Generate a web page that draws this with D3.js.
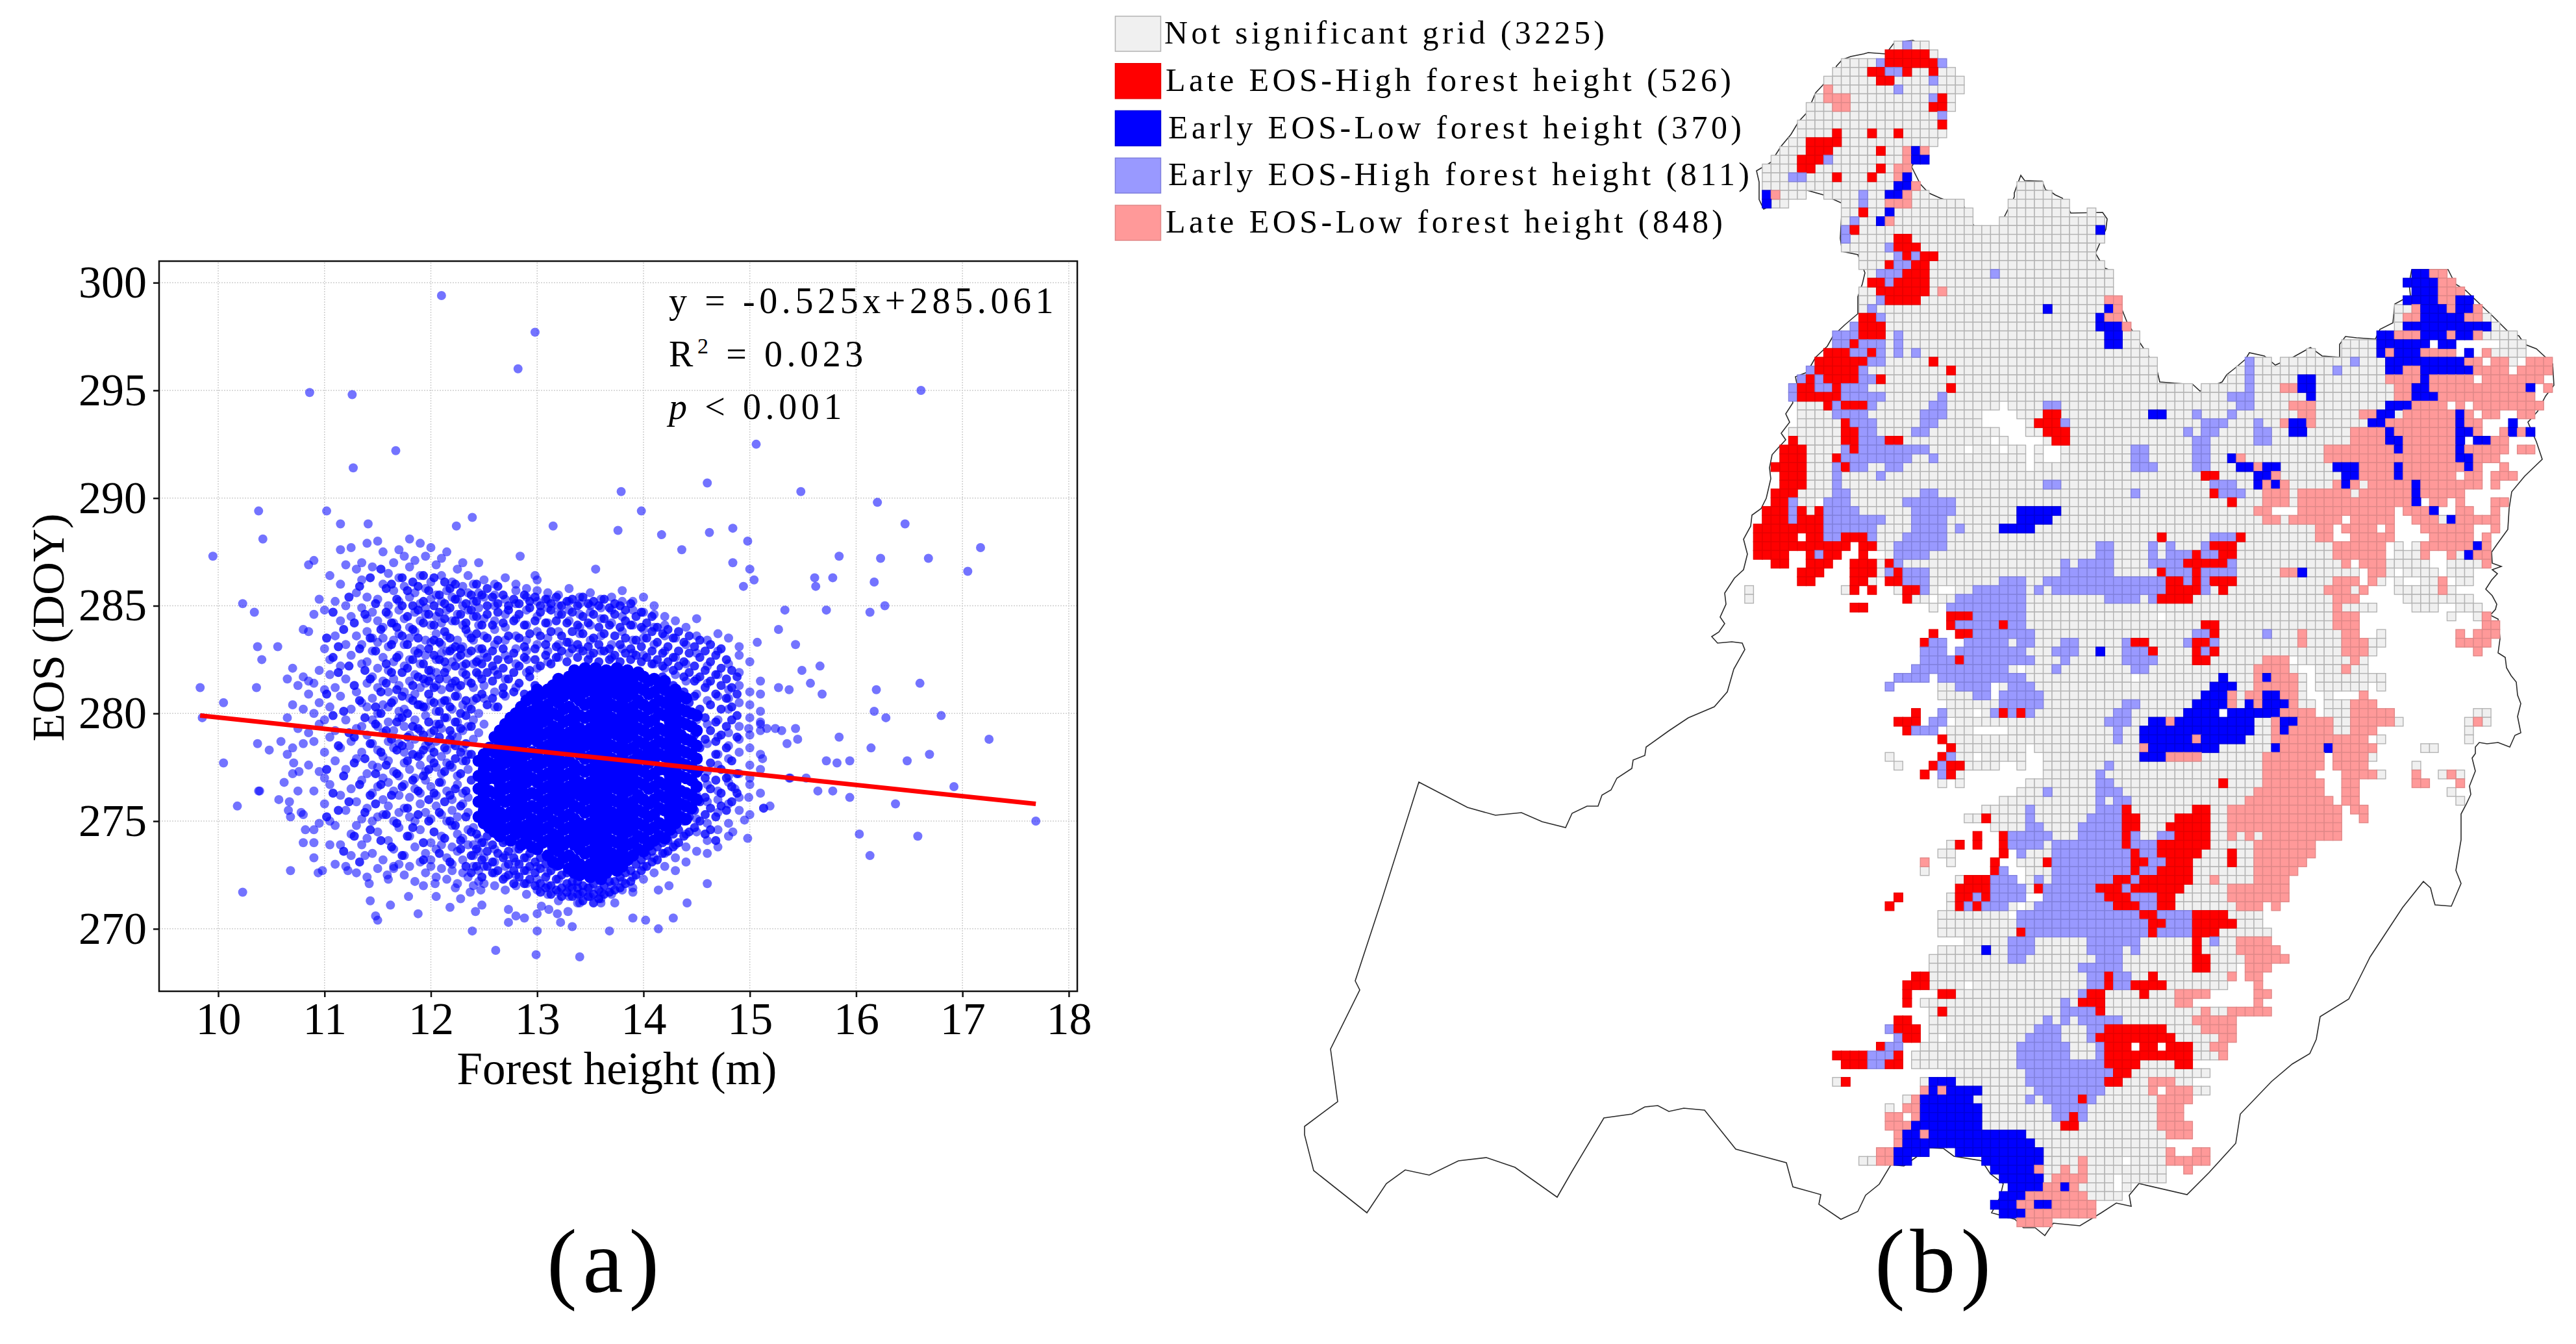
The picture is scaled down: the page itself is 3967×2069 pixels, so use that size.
<!DOCTYPE html>
<html>
<head>
<meta charset="utf-8">
<script src="https://cdn.jsdelivr.net/npm/d3@7"></script>
<style>
  body { margin: 0; background: #fff; }
  text { font-family: "Liberation Serif", serif; fill: #000; }
</style>
</head>
<body>
<div id="chartbox"></div>
<script>
// ---- panel (a) values ----
const xTicks = [10, 11, 12, 13, 14, 15, 16, 17, 18]
const yTicks = [270, 275, 280, 285, 290, 295, 300]
const fitHeight = [9.83, 17.69]
const fitEos = [279.9, 275.8]
const statLines = ['y = -0.525x+285.061', '0.023', '0.001']

// scattered points outside the cloud
const outliers = [[12.10,299.4],[12.98,297.7],[12.82,296.0],[10.86,294.9],[11.26,294.8],[16.61,295.0],[15.06,292.5],[11.67,292.2],[11.27,291.4],[14.60,290.7],[13.79,290.3],[15.48,290.3],[10.38,289.4],[11.02,289.4],[13.98,289.4],[16.20,289.8],[12.39,289.1],[11.15,288.8],[11.41,288.8],[12.24,288.7],[13.15,288.7],[13.76,288.5],[14.17,288.3],[14.62,288.4],[14.84,288.6],[14.98,288.0],[16.46,288.8],[17.17,287.7],[9.95,287.3],[10.42,288.1],[15.84,287.3],[16.23,287.2],[16.68,287.2],[17.05,286.6],[14.36,287.6],[12.84,287.3],[13.55,286.7],[12.98,286.4],[14.84,287.0],[15.0,286.7],[15.04,286.2],[15.61,286.3],[15.78,286.3],[15.62,285.9],[16.17,286.1],[14.94,285.9],[16.27,285.0],[16.13,284.7],[15.72,284.8],[15.33,284.8],[15.27,283.9],[15.07,283.3],[15.43,283.2],[10.23,285.1],[10.34,284.7],[10.85,283.8],[10.56,283.1],[10.37,283.1],[10.41,282.5],[15.49,282.0],[15.66,282.2],[15.57,281.4],[16.60,281.4],[16.19,281.1],[15.68,280.9],[15.37,281.1],[15.27,281.2],[9.83,281.2],[10.36,281.2],[10.05,280.5],[16.17,280.1],[16.28,279.8],[16.80,279.9],[9.85,279.8],[15.84,278.9],[17.25,278.8],[16.14,278.4],[16.69,278.1],[15.72,277.8],[15.82,277.7],[15.94,277.8],[16.48,277.8],[10.05,277.7],[15.37,277.0],[15.53,277.0],[16.92,276.6],[15.64,276.4],[15.78,276.4],[15.94,276.1],[16.37,275.8],[10.38,276.4],[10.18,275.7],[17.69,275.0],[15.19,275.7],[15.13,275.6],[16.03,274.4],[16.58,274.3],[16.13,273.4],[10.23,271.7],[12.61,269.0],[12.99,268.8],[13.40,268.7],[12.39,269.9],[13.0,269.9],[13.68,269.9],[14.14,270.0],[13.33,270.1],[12.73,270.3],[13.22,270.3],[12.8,270.6],[12.88,270.5],[13.9,270.5],[14.02,270.4],[14.28,270.5],[11.5,270.4],[11.48,270.6],[11.88,270.7],[12.42,270.8],[13.0,270.7],[12.73,270.9],[13.11,270.9],[13.29,270.8],[13.19,270.7],[13.04,271.05],[12.48,271.1],[12.18,271.0],[11.62,271.1],[11.43,271.3],[11.79,271.5],[12.05,271.5],[12.28,271.4],[13.38,271.2],[13.6,271.2],[13.73,271.2],[14.41,271.2],[14.6,272.1],[14.24,272.0],[14.14,271.8],[13.9,271.7],[11.42,272.1],[11.93,272.0],[12.04,272.1],[12.23,271.9],[12.37,271.7],[12.47,271.8],[10.68,272.7],[10.94,272.6],[10.98,272.7],[11.22,272.7],[11.65,272.8],[11.59,272.5],[10.9,273.3],[11.38,273.4],[10.8,274.0],[10.9,274.0],[11.05,273.9],[10.82,274.6],[10.9,274.6],[10.68,275.2],[10.66,275.5],[10.57,276.0],[10.67,275.9],[10.78,275.4],[10.39,276.4],[10.62,276.8],[10.76,277.3],[10.71,277.7],[10.37,278.6],[10.48,278.3],[10.59,278.7],[10.7,278.4],[14.98,274.2],[14.84,274.5],[14.95,275.05],[15.13,275.6],[14.99,276.1],[14.86,276.5],[15.12,277.9],[15.38,277.0],[15.35,278.6],[15.43,279.3],[15.45,278.8],[15.24,279.3],[15.3,279.2],[15.16,279.3],[15.1,279.6],[14.99,279.3]]

// the loose part of the cloud, one EOS list per forest height
const looseHeights = [10.65,10.7,10.75,10.8,10.85,10.9,10.95,11.0,11.05,11.1,11.15,11.2,11.25,11.3,11.35,11.4,11.45,11.5,11.55,11.6,11.65,11.7,11.75,11.8,11.85,11.9,11.95,12.0,12.05,12.1,12.15,12.2,12.25,12.3,12.35,12.4,12.45,12.5,12.6,12.7,12.8,12.9,13.0,13.1,13.2,13.3,13.4,13.5,13.6,13.7,13.8,13.9,14.0,14.1,14.2,14.3,14.4,14.5,14.6,14.7,14.8,14.9,15.0,15.1]
const looseEos = [
  [279.8,281.6,278.1],
  [280.4,282.1,277.2],
  [281.3,279.3,276.4],
  [281.7,280.2,278.6,283.9,275.3],
  [280.9,279.1,281.5,286.9,277.6],
  [281.4,280.0,278.7,284.6,276.4,287.1],
  [280.5,279.5,282.0,277.3,285.3,274.9],
  [281.1,279.7,278.2,283.0,275.8,284.8,277.0],
  [281.8,280.3,278.9,276.7,282.5,286.4,275.0],
  [279.2,281.2,283.6,277.8,274.8,285.2,273.0],
  [280.8,278.4,282.2,284.3,276.2,273.9,287.6,286.0],
  [281.6,279.7,277.4,283.2,275.5,285.0,272.9,286.9],
  [280.2,278.7,282.7,276.5,284.5,274.4,273.4,287.7],
  [281.0,279.3,277.9,283.6,275.9,285.6,274.8,272.6,286.7],
  [280.5,278.2,282.3,276.9,284.9,273.9,283.2,286.2,275.1,287.0,279.4],
  [281.4,279.0,277.2,283.8,275.6,285.4,274.2,280.3,282.4,284.4,272.4,287.9],
  [280.7,278.6,282.9,276.3,284.7,273.5,281.7,279.7,275.0,286.8,277.6,283.5],
  [281.2,279.4,277.5,283.3,275.2,285.3,274.5,280.0,282.1,284.3,272.8,288.0,276.6,278.3],
  [280.4,278.0,282.6,276.0,284.0,273.2,281.5,279.1,286.0,275.3,277.0,283.5,287.5],
  [281.0,279.6,277.8,283.1,275.7,285.0,274.1,280.3,282.0,284.6,272.3,286.5,276.8,278.7],
  [280.6,278.4,282.4,276.4,284.2,273.7,281.6,279.2,285.7,275.0,277.3,283.4,287.0,272.9],
  [281.3,279.8,277.1,283.7,275.4,285.2,274.7,280.1,282.7,284.8,273.0,286.3,276.2,278.6,287.6],
  [280.2,278.2,282.2,276.7,284.4,273.4,281.0,279.4,285.9,275.6,277.7,283.2,287.3,272.5],
  [281.5,279.0,277.4,283.5,275.2,285.4,274.3,280.7,282.5,284.0,272.9,286.8,276.1,278.5,288.1],
  [280.9,278.8,282.9,276.5,284.7,273.8,281.8,279.7,285.6,275.0,277.0,283.8,287.1,272.2],
  [281.2,279.2,277.6,283.0,275.8,285.1,274.6,280.4,282.3,284.3,273.1,286.4,276.3,278.1,287.9],
  [280.3,278.5,282.7,276.9,284.6,273.5,281.4,279.9,285.8,275.4,277.3,283.4,287.3,272.6,284.9],
  [281.7,279.1,277.9,283.3,275.1,285.3,274.0,280.6,282.0,284.1,272.9,286.1,276.6,278.4,287.7,273.2],
  [280.1,278.7,282.5,276.2,284.5,273.7,281.3,279.5,285.5,275.7,277.5,283.7,286.9,272.4,281.9],
  [281.1,279.3,277.2,283.2,275.3,285.2,274.3,280.5,282.8,284.2,272.8,286.4,276.8,278.0,287.2,273.9],
  [280.6,278.3,282.1,276.4,284.8,273.3,281.6,279.8,285.7,275.0,277.7,283.6,287.5,272.3,282.9],
  [281.4,279.0,277.5,283.0,275.5,285.4,274.8,280.2,282.4,284.3,273.0,286.1,276.0,278.6,272.7,273.8],
  [280.8,278.9,282.6,276.7,284.6,273.6,281.2,279.6,285.3,275.2,277.1,283.4,286.7,272.1,274.4],
  [281.9,279.2,277.8,283.1,275.8,285.0,274.2,280.4,282.2,284.1,272.6,285.9,276.3,278.4,287.0,273.2],
  [280.3,278.1,282.8,276.1,284.8,273.9,281.5,279.4,285.6,275.4,277.4,283.7,286.4,272.4,274.6],
  [281.2,279.7,283.4,285.2,274.7,280.6,282.3,284.5,272.9,286.0,273.4,278.8,272.0,273.9],
  [281.8,279.1,283.0,284.9,274.2,280.0,282.5,284.1,272.7,285.6,273.6,287.0,272.2],
  [280.7,279.5,283.6,285.4,274.0,281.3,282.8,284.4,272.9,286.2,273.3,272.1],
  [280.3,282.0,283.2,285.0,273.7,281.0,284.3,286.0,272.6,273.1,283.9,285.5,272.0],
  [281.6,282.7,284.0,285.3,273.4,280.8,283.4,286.3,272.4,272.9,284.6,274.1,271.8],
  [281.2,282.3,283.6,285.1,273.1,284.4,285.7,272.5,273.7,283.0,286.0,272.0],
  [281.9,282.9,284.1,285.4,272.7,283.4,284.8,273.3,272.1,282.5,285.8,271.6],
  [282.1,283.2,284.5,285.2,272.3,283.8,285.7,271.8,272.9,286.2],
  [282.4,283.5,284.2,285.3,272.0,282.9,284.9,271.6,272.6,285.6],
  [282.6,283.8,284.6,285.0,271.7,283.2,285.5,272.3,271.3],
  [282.8,283.3,284.3,285.2,271.9,284.8,271.5,285.8],
  [283.0,283.7,284.6,285.4,271.6,284.0,285.1,271.2],
  [282.7,283.4,284.1,285.0,271.5,284.7,271.9,285.6],
  [282.9,283.6,284.4,285.3,271.7,284.9,271.4],
  [282.6,283.2,284.2,284.8,272.0,285.4,271.6],
  [283.0,283.8,284.5,285.2,272.2,271.8,285.7],
  [282.8,283.4,284.1,284.8,272.4,271.9,285.2],
  [282.7,283.5,284.7,285.4,272.9,272.3,283.9],
  [282.3,283.2,284.0,284.6,273.3,272.6,285.0],
  [282.1,282.9,283.6,284.5,273.5,272.9,284.1],
  [281.8,282.6,283.5,284.3,273.9,273.3,272.7,280.9],
  [281.5,282.3,283.2,284.0,274.4,273.8,273.1,275.0],
  [280.9,281.6,282.8,283.6,275.1,274.5,273.6,276.2,284.4,279.7],
  [280.6,281.4,282.2,283.4,275.9,274.9,274.1,277.3,278.6,273.5,279.5,276.7],
  [279.7,280.8,281.8,282.9,276.4,275.4,274.6,277.6,278.9,283.7,273.8,278.1,276.0],
  [279.1,280.2,281.1,282.3,276.8,275.8,274.9,277.1,278.5,283.5,274.3,280.7,277.9],
  [279.4,280.5,281.3,282.7,277.2,276.1,275.5,278.2,278.8,283.1,281.9],
  [279.0,279.8,281.0,282.4,277.6,276.7,275.3,278.4,277.0,280.4],
  [279.5,280.1,281.5,278.1,277.4,279.2,276.3,280.9]
]

// darker clumps of the cloud, where a few points already overlap
const clumpHeights = [11.02,11.08,11.13,11.18,11.23,11.28,11.33,11.38,11.43,11.48,11.53,11.58,11.63,11.68,11.73,11.78,11.83,11.88,11.93,11.98,12.03,12.08,12.13,12.18,12.23,12.28,12.33,12.38,12.43,12.48,12.53,12.58,12.63,12.68,12.73,12.78,12.83,12.88,12.93,12.98,13.03,13.08,13.13,13.18,13.23,13.28,13.33,13.38,13.43,13.48,13.53,13.58,13.63,13.68,13.73,13.78,13.83,13.88,13.93,13.98,14.03,14.08,14.13,14.18,14.23,14.28,14.33,14.38,14.43,14.48,14.53,14.58,14.63,14.68,14.73,14.78,14.83,14.88]
const clumpEos = [
  [283.5,280.9,277.4,275.2],
  [282.6,279.9,276.3,284.7],
  [281.9,278.5,275.5,283.1],
  [280.1,283.9,277.1,273.6],
  [282.2,279.1,285.4,275.9],
  [281.3,284.2,277.7,274.3,278.9],
  [283.0,280.6,276.7,285.9,273.1],
  [279.8,282.0,284.6,275.4,277.9],
  [281.6,278.6,283.5,286.3,274.6,276.2],
  [280.3,282.9,285.1,277.2,279.5,275.8],
  [283.9,281.0,278.2,286.7,274.1,276.7,280.0],
  [279.2,282.3,284.7,277.6,275.3,281.4,285.8],
  [283.2,280.5,278.8,286.0,276.2,273.8,281.9,284.2],
  [279.6,282.6,285.3,277.2,274.9,281.1,284.0,278.3],
  [283.6,280.8,278.5,286.3,276.6,273.4,281.9,285.0,279.8],
  [282.1,280.0,284.5,277.8,275.6,283.2,278.9,285.7,274.3],
  [283.9,281.3,279.4,286.1,276.9,274.7,282.5,285.0,278.1,280.6],
  [282.8,280.4,284.8,278.0,275.3,283.5,279.3,285.9,276.4,281.7],
  [284.2,281.6,279.0,286.4,277.1,274.0,282.3,285.2,278.3,280.3,273.2],
  [283.0,280.9,284.6,278.7,276.0,282.0,279.6,285.7,275.0,281.5,277.4],
  [284.1,281.2,279.2,285.0,277.7,274.5,282.7,283.4,278.2,280.5,276.3,286.3],
  [282.5,280.1,284.7,278.9,275.4,283.3,279.5,285.5,276.8,281.6,273.5],
  [283.8,281.9,279.8,286.1,277.3,274.2,282.4,285.1,278.4,280.6,275.9,284.4],
  [282.9,280.3,284.9,278.8,276.2,283.5,279.2,285.8,275.0,281.2,277.6,273.1],
  [284.3,281.5,279.6,285.3,277.9,274.8,282.2,283.1,278.5,280.8,276.5,286.0],
  [283.0,280.0,284.6,278.2,275.7,282.7,279.3,285.6,274.1,281.3,277.2,273.7],
  [283.9,281.8,279.9,285.1,277.8,275.2,282.3,284.2,278.6,280.6,276.4,272.9],
  [282.9,280.2,284.8,278.1,274.5,283.5,279.4,285.5,276.9,281.4,273.4,272.6],
  [283.7,281.9,284.5,285.2,282.4,280.7,273.7,272.9,274.4,286.0],
  [283.0,282.3,284.1,285.5,281.6,280.9,273.2,272.4,274.0],
  [283.5,281.9,284.6,285.0,282.6,280.4,273.6,272.9,274.3,285.8],
  [282.9,282.2,284.1,285.4,281.5,280.7,273.1,272.6,273.9],
  [283.4,281.8,284.7,285.1,282.5,280.3,272.7,273.5,285.9],
  [283.0,282.1,284.2,285.5,281.2,280.9,273.3,272.3,274.0],
  [283.6,282.5,284.8,285.0,281.6,273.0,272.5,273.6],
  [282.8,281.9,284.3,285.3,281.0,272.7,273.3,272.1],
  [283.5,282.2,284.6,285.1,281.4,273.0,272.4,273.7],
  [283.1,282.6,284.1,285.5,280.9,272.7,272.1,273.3],
  [283.7,282.0,284.9,285.2,281.7,272.9,272.3,273.5],
  [283.0,282.5,284.3,285.4,281.3,272.6,272.0,273.1],
  [283.6,282.2,284.7,285.0,272.8,272.1,271.7,273.3],
  [283.2,282.7,284.2,285.3,272.4,271.9,273.0],
  [283.8,282.3,284.8,285.1,272.7,272.0,271.6],
  [283.1,282.6,284.3,285.4,272.3,271.8,272.9],
  [283.6,282.9,284.6,285.0,272.5,271.9,271.5],
  [283.3,282.4,284.2,285.2,272.1,271.7,272.6],
  [283.8,283.0,284.7,285.3,272.2,271.5,271.9],
  [283.2,282.6,284.1,285.0,271.9,271.6,272.2],
  [283.7,282.9,284.5,285.4,271.7,271.3,272.0],
  [283.1,282.5,284.2,285.1,271.9,271.5],
  [283.5,282.8,284.6,285.2,271.6,271.2,272.1],
  [283.2,282.4,284.0,285.0,271.8,271.4],
  [283.7,282.9,284.4,285.3,272.0,271.6],
  [283.0,282.5,284.1,284.9,271.7,272.2],
  [283.6,282.7,284.6,285.1,272.2,271.8],
  [283.2,282.4,284.0,285.0,272.4,271.9],
  [283.5,282.8,284.3,284.8,272.6,272.1],
  [283.0,282.5,284.1,285.1,272.7,272.2],
  [283.4,282.7,284.5,273.0,272.5],
  [283.1,282.4,284.0,284.7,273.2,272.7],
  [283.5,282.6,284.2,273.4,272.9],
  [282.9,282.3,283.8,284.5,273.6,273.1],
  [283.3,282.5,284.0,273.8,273.2],
  [282.8,282.2,283.7,274.0,273.5,281.7],
  [283.1,282.4,283.9,274.1,273.6],
  [282.6,282.0,283.5,274.4,273.8,281.3],
  [282.9,282.2,283.8,274.6,274.0,280.9],
  [282.4,281.7,283.3,275.0,274.3,281.0],
  [282.8,281.9,283.6,275.2,274.5,280.5,276.0],
  [282.2,281.5,283.1,275.5,274.7,280.8,276.8,279.0],
  [282.6,281.7,283.4,275.9,275.0,280.2,277.4,278.4],
  [282.0,281.2,282.9,276.1,275.3,279.8,277.0,278.8,274.4],
  [282.4,281.5,283.2,276.5,275.6,280.4,277.7,279.2,274.6],
  [281.8,280.9,282.7,276.9,275.2,279.6,278.1,278.7,274.1],
  [282.1,281.3,283.0,276.3,275.7,280.2,277.4,279.0],
  [281.6,280.7,282.5,277.0,275.5,279.4,278.4],
  [281.2,280.3,282.0,276.6,275.9,279.7,277.8],
  [280.9,279.9,281.7,277.2,276.3,278.9]
]

// the solid core of the cloud, where points pile up on each other
const coreHeights = [12.45,12.5,12.55,12.6,12.65,12.7,12.75,12.8,12.85,12.9,12.95,13.0,13.05,13.1,13.15,13.2,13.25,13.3,13.35,13.4,13.45,13.5,13.55,13.6,13.65,13.7,13.75,13.8,13.85,13.9,13.95,14.0,14.05,14.1,14.15,14.2,14.25,14.3,14.35,14.4,14.45,14.5]
const coreEos = [
  [275.2,275.9,276.5,277.1,277.8],
  [274.9,275.5,276.2,276.8,277.4,278.1],
  [274.7,275.3,275.8,276.4,277.0,277.7,278.4],
  [274.5,275.1,275.7,276.3,277.0,277.5,278.2,278.9],
  [274.3,274.9,275.4,276.1,276.7,277.3,277.9,278.6,279.2],
  [274.6,275.2,275.9,276.5,277.1,277.7,278.3,278.9,279.5],
  [274.1,274.7,275.4,276.0,276.6,277.2,277.9,278.5,279.1,279.8],
  [274.4,275.0,275.7,276.3,276.9,277.5,278.2,278.8,279.4,280.0],
  [273.9,274.6,275.3,275.9,276.5,277.1,277.8,278.4,279.0,279.7,280.3],
  [274.2,274.8,275.5,276.2,276.8,277.4,278.1,278.7,279.3,279.9,280.6],
  [273.8,274.5,275.1,275.7,276.3,277.0,277.6,278.2,278.9,279.5,280.1,280.8],
  [273.7,274.3,274.9,275.6,276.2,276.8,277.5,278.0,278.7,279.3,279.9,280.5,281.1],
  [274.0,274.6,275.2,275.9,276.5,277.1,277.7,278.4,279.0,279.6,280.2,280.9],
  [273.4,274.1,274.7,275.4,276.0,276.6,277.2,277.9,278.5,279.1,279.8,280.4,281.1],
  [273.1,273.8,274.4,275.0,275.7,276.3,276.9,277.6,278.2,278.8,279.4,280.0,280.7,281.3],
  [273.0,273.6,274.2,274.9,275.5,276.1,276.7,277.3,278.0,278.6,279.2,279.9,280.5,281.1,281.6],
  [273.3,273.9,274.6,275.2,275.8,276.4,277.1,277.7,278.3,278.9,279.6,280.2,280.8,281.4],
  [272.8,273.4,274.1,274.7,275.3,276.0,276.6,277.2,277.8,278.5,279.1,279.7,280.3,281.0,281.7],
  [272.6,273.2,273.9,274.5,275.1,275.7,276.4,277.0,277.6,278.3,278.9,279.5,280.1,280.8,281.4,282.0],
  [272.5,273.0,273.7,274.3,274.9,275.6,276.2,276.8,277.4,278.1,278.7,279.3,279.9,280.6,281.2,281.8],
  [272.8,273.5,274.1,274.7,275.4,276.0,276.6,277.3,277.9,278.5,279.1,279.8,280.4,281.0,281.6,282.1],
  [272.4,273.0,273.6,274.3,274.9,275.5,276.2,276.8,277.4,278.0,278.7,279.3,279.9,280.5,281.2,281.8],
  [272.7,273.3,273.9,274.6,275.2,275.8,276.4,277.1,277.7,278.3,279.0,279.6,280.2,280.8,281.5,282.1],
  [272.3,272.9,273.6,274.2,274.8,275.4,276.1,276.7,277.3,277.9,278.6,279.2,279.8,280.5,281.1,281.7],
  [272.6,273.2,273.8,274.5,275.1,275.7,276.3,277.0,277.6,278.2,278.9,279.5,280.1,280.7,281.4,282.0],
  [272.9,273.5,274.1,274.8,275.4,276.0,276.7,277.3,277.9,278.5,279.2,279.8,280.4,281.1,281.7],
  [272.7,273.3,274.0,274.6,275.2,275.9,276.5,277.1,277.7,278.4,279.0,279.6,280.3,280.9,281.5,282.1],
  [272.9,273.6,274.2,274.8,275.5,276.1,276.7,277.3,278.0,278.6,279.2,279.9,280.5,281.1,281.8],
  [273.2,273.9,274.5,275.1,275.7,276.4,277.0,277.6,278.3,278.9,279.5,280.1,280.8,281.4,282.0],
  [273.4,274.0,274.7,275.3,275.9,276.6,277.2,277.8,278.4,279.1,279.7,280.3,281.0,281.6],
  [273.7,274.3,274.9,275.5,276.2,276.8,277.4,278.1,278.7,279.3,279.9,280.6,281.2,281.9],
  [273.6,274.2,274.8,275.4,276.0,276.7,277.3,277.9,278.6,279.2,279.8,280.4,281.1,281.7],
  [273.9,274.6,275.2,275.8,276.5,277.1,277.7,278.3,279.0,279.6,280.2,280.9,281.5],
  [274.1,274.7,275.3,276.0,276.6,277.2,277.9,278.5,279.1,279.7,280.4,281.0,281.6],
  [274.3,274.9,275.6,276.2,276.8,277.4,278.1,278.7,279.3,280.0,280.6,281.2],
  [274.2,274.8,275.5,276.1,276.7,277.4,278.0,278.6,279.2,279.9,280.5,281.1,281.5],
  [274.6,275.2,275.9,276.5,277.1,277.8,278.4,279.0,279.6,280.3,280.9],
  [274.9,275.5,276.2,276.8,277.4,278.0,278.7,279.3,279.9,280.6,281.1],
  [275.2,275.8,276.4,277.1,277.7,278.3,279.0,279.6,280.2,280.8],
  [275.1,275.7,276.3,277.0,277.6,278.2,278.8,279.5,280.1,280.7],
  [275.6,276.2,276.9,277.5,278.1,278.7,279.4,280.0],
  [276.0,276.6,277.3,277.9,278.5,279.2,279.9]
]

// ---- panel (b) values: cells of the grid as "row:firstCol-lastCol,..." ----
const legendNames = ['Not significant grid (3225)', 'Late EOS-High forest height (526)', 'Early EOS-Low forest height (370)', 'Early EOS-High forest height (811)', 'Late EOS-Low forest height (848)']

const notSignificantRuns = ['0:16-19','1:15-20','2:10-21','3:9-22','4:8-23','5:8-23','6:7-22','7:6-22','8:6-21','9:5-21','10:5-21','11:4-20','12:3-19','13:2-19','14:1-17','15:1-17','16:1-18,30-32','17:1-5,8-19,30-33','18:1-3,10-23,29-35','19:10-24,29-35,38','20:10-24,28-39','21:10-39','22:10-39','23:10-38','24:12-38','25:12-39','26:13-40,75-78','27:13-40,74-79','28:12-40,75-80','29:12-41,74-81','30:12-41,73-82','31:12-41,73-83','32:11-42,73-84','33:9-43,71-86','34:9-43,67-76,85-87','35:8-44,63,67-79,84-87','36:7-45,56-58,60-82,84-86','37:6-45,55-85','38:5-45,54-81,83-89','39:4-49,51-88','40:4-88','41:5-27,29-78,80,82-89','42:5-25,30-81,83-84,87-88','43:5-25,31-82','44:4-27,31-82,85-88','45:4-26,28,33-80,82-85','46:3-23,25-27,29-30,32,35-85,87-88','47:3-30,32,35-84','48:2-30,32-82,85','49:3-79,81-82,84-86','50:3-82,84','51:2-80','52:2-6,8-75,77-78,80,84-85','53:1-58,62-72,74-77,80-81,84','54:1-66,68-72,75-84','55:0-65,67-70,72,76-81,84','56:0-4,6-65,68-72,77-81,83','57:0-10,12-71,73,75-83','58:0-3,6-9,12,15-71,73-76,79-83','59:2-3,6-8,11-67,69-76,79-83','60:5-7,11-68,70-72,74-77,79-81','61:5-6,11-13,15-68,70-71,73,76-78,80-81','62:-1,10-11,13,16-20,23-69,73-79','63:-1,17-19,21-68,74-81','64:11-12,20,22-70,75-77,80-82','65:22-45,47-68,79,82','66:22-68','67:20,23-68,71','68:19-21,24-71','69:19-21,23-70','70:19-60,62-69','71:18-29,31-61,64-69','72:16-19,21-42,44-62,64-71','73:15,21-26,28-62,64-69,71','74:21-26,28-62,65,69','75:22-63,65-70','76:18,21-24,26-52,54-63,65-72,82-83','77:16-18,20-21,23-73,81,83','78:17-20,22-24,29-70,81','79:21-69,71,81','80:22-30,32-70,76-77','81:15,21-24,26-30,33-64,66-70','82:16,20-27,30,33-64,66-69,75','83:19,21-23,33-63,67-71,78,80','84:21,23,31-64,67-68','85:30-64,67-68,79','86:28-65,67-68,80','87:26-66,68-69','88:24-66,69','89:27-66','90:25,28-66','91:22-23,25,28-63','92:21-22,28,30-63','93:19,22,27,30-62','94:19,27-28,31-61','95:23-29,31-60','96:23-60','97:16,22-30,33-60','98:15,22-29,31-57,59','99:21-28,30-57','100:21-57','101:21-58','102:24-58','103:21-58','104:20-58','105:20-54,56-58','106:18-54,56-57','107:17-23,25-53,57','108:17,21-51,57-58','109:17,19-49,57','110:20-58','111:16-17,20-54','112:15-18,20-54','113:16-18,20,22-54','114:14-16,19-42,44-45,47-53','115:9-16,18-53','116:10-16,18-49','117:22-51','118:9-10,19-49','119:19-45,47-51','120:17-49','121:15,17-48','122:15-16,18-48','123:15-49','124:16-49','125:16-46','126:14-19,23-47,50-51','127:12-17,26-41,43-51','128:27-46,49','129:28-40,42-46','130:29-40,42','131:28-41','132:27-38','133:28-38','134:30-33']

const lateHighRuns = ['1:15-19','2:15-20','3:13-14,17,20','4:14-15','6:21','7:20-21','9:21','10:9,13,16','11:6-9','12:6-8,14','13:5-7','14:5-6,14','15:9,13','19:12','21:11','22:16-17','23:16-18','24:17,19-20','25:15,18-19','26:17-19','27:13-14,16-19','28:14-19','29:15-18','31:12-13','32:12-14','33:12-14','34:11','35:8-10,13','36:7-12,20','37:7-11,22','38:6,8-11,14','39:5-6,9,22','40:5-9','41:8,10-12','42:33-34','43:10,32-34','44:10-11,33-35','45:4,10-11,15-16,34-35','46:3-5,11','47:3-5,9','48:2-5,10','49:3-5,51-52','50:3-5','51:2-4,52','52:2-3,54','53:1-3,5,7','54:1-3,5-7','55:0-7','56:0-4,6-7,10-12,46,55','57:0-10,12-13,52-54','58:0-3,6,8-9,12,50,53-54','59:2-3,6-8,11-13,15,49-53','60:5-7,11-13,16,46,50','61:5-6,11-12,15-16,47-48,50,52-54','62:11,13,17-18,47-50,53','63:17,46-49','64:11-12','65:22-24','66:22,28,51-52','67:20,23-24,52','68:19,43-44,50-51','69:45,50,52','70:23,50-51','76:18,28,30','77:16-18','78:17','79:21','80:22','81:21','82:20,22-23','83:19,22','84:53','87:42,50-51','88:26,42-43,48-51','89:42-43,47-51','90:25,28,42,48-51','91:23,25,28,42,46-51','92:28,43,46-50,54','93:27,33,43-44,47-49,54','94:27,43,46-49','95:24-26,41-42,44-49','96:23-26,32,39-41,43-48','97:16,23-24,26,40-42,46-47','98:15,23,25,41-43,46-47','99:44-45,50-53','100:45-46,50-54','101:30,45,50-52','102:50','103:50','104:50-51','105:50-51','106:18-19,40,45','107:17-19,40,43-46','108:17,21-22,38-39,44','109:17,37-39','110:21,39','111:16-17','112:16-18,40-46','113:17-18,39-47','114:14,40-42,44-45,47-49','115:9-12,16,40-49','116:10-12,15-16,40-43,48-49','117:41-42','118:10,40-41','120:37','122:36','123:35-36']

const earlyLowRuns = ['12:18','13:18-19','15:17','16:16-17','17:1,15-16','18:1','19:15','20:14','21:39','26:75-76','27:74-77','28:75-77','29:74-77,80-81','30:33,40,76-78,80-81','31:39,76-80','32:39-41,74-83','33:40-41,71-72,76-78,80-81','34:40-41,71-76,78-79','35:71,73-75,81','36:72-80','37:72-73,76-81','38:62-63,76','39:62-63,75-76,88','40:63,75-77','41:72-74','42:45-46,71-72,80','43:61-62,70-71,80,86','44:61-62,72,80-81,86,88','45:72-73,80,82-83','46:73,80','47:54,80-81','48:55-56,58-59,66-68,73,81','49:57-58,67-68,73','50:57,59,67,75','51:75','52:75','53:30-34,77','54:30-33,79','55:28-31','57:82','58:81','60:62','69:39','72:53,58','73:52-54','74:51-53,58-59','75:50-53,56,58-60','76:49-52,54-59','77:45-46,48-56,60-61','78:44-56,60','79:44-49,51-55','80:45-52,59,65','81:44-46','103:26','118:20-22','119:20,22-25','120:19-24','121:19-25','122:19-25','123:18-25','124:17-18,20-30','125:17-31','126:16-19,23-32','127:16-17,26-32','128:27-31','129:28-32','130:29-32,35','131:28-30','132:27-29,32-33','133:28-30']

const earlyHighRuns = ['0:17','2:14,21','3:15-16','4:20','5:16','6:20','8:21','13:8','15:4-5','17:12','18:12','20:11','21:10','22:10','23:15','24:16,18','25:16-17','26:14-16,27','27:15','29:14','30:13','31:14','32:11','33:9-11,16','34:9-10,12-14,16','35:11-12,14,16,18','36:13-14,56,68','37:6,12,56,66','38:5,7,12-13,56','39:4,7-8,10-12,56','40:4,10-14,21,54-56','41:9,13,20-21,33-34,55-56','42:9-12,19-21,50,54','43:11-13,19-20,35,51-53,57','44:12-13,18-19,49,51-52,57-58','45:12-14,50-51,57-58','46:10,12-19,43-44,50-51','47:10-17,20,43-44,50-51','48:9,11-12,15-16,43-45,50-51','49:9,14','50:9,33-34,52-54','51:9-10,19-20,43,53-55','52:4,8-10,17-22','53:4,8-11,18-22','54:4,8-14,18-21','55:8-13,18-21,23','56:8-9,13,17-21,52-54','57:16-21,39-40,45,47,51','58:7,16-19,39-40,45,47-49,51-52','59:16,35,37-40,45-48,54','60:15,17-19,35-40,47-49,51-54','61:17-19,28-30,33-46,49,51','62:19,25-30,32,34-46,51','63:23-30,40-43,45','64:22-30','65:25-30','66:23-27,29-30','67:25-31,50-51,58','68:20-21,24-28,30-31,35-36,42,49,52','69:19-21,23-30,34-36,42-44,51','70:19-22,24-31,35,42-45','71:18-28,34,43-44','72:16-19,21-30','73:15,23-26,29-31','74:25-26,28-32','75:28-32,42-43','76:21,27,29,31,41-42','77:20-21,40-42','78:18-20,41','79:41','81:22','82:21,40','83:21,39','84:39-40','85:33,39-41','86:39,41-42','87:31,39-41','88:31,38-41','89:31-32,37-41','90:29-33,37-41,43,46-47','91:29-32,34-41,43-45','92:30,34-42,44-45','93:34-42,45-46','94:28,34-42,44-45','95:27-29,32,34-40,43','96:27-30,33-38,42','97:25,27-30,33-39,43-45','98:24,26-28,32-40,44-45','99:30-43,46-49','100:30-44,47-49','101:31-44,46-49','102:29-31,38-43,52','103:29-31,38-41,43','104:29-30,39-41','105:37-41','106:38-39,41-42','107:38-39,41-42','108:37','109:35','110:35-38','111:33,35,37-41','112:15,32-34,38-39','113:16,31-34,38','114:15-16,30-35,39','115:13-15,30-35,39','116:13-14,30-39','117:31-40','118:31-39','119:32-39','120:31,33-36,38','121:34-37','122:34-35,37']

const lateLowRuns = ['5:8','6:8-10','7:9-10','12:17,19','13:17','14:16-17','15:16','16:18','17:2,17','18:15-17','20:15','26:77-78','27:78-79','28:21,78-80','29:40-41,78-79','30:41,75,79,82','31:40-41,74-75,81-82','32:42','33:73-75,79,82','35:72,76-79,83','36:81-82,84-85,88-90','37:74-75,82-85,87-90','38:72-75,77-81,83-89','39:60-61,73-74,77-87,90','40:73-74,78-88','41:61-63,75-78,80,82-89','42:62-63,69-70,74-79,81,83-84,87-88','43:60,63,72-79,81-82','44:68-71,73-79,82,85,87','45:68-71,74-79,84-85','46:65-72,74-79,81-85,87-88','47:55,65-79,82-84','48:57,69-72,74-80,82,85','49:59,69-72,74-79,81-82,84-86','50:58,60,66,68,70-74,76-82,84','51:58-60,62-67,69-74,76-80','52:58-60,62-74,77-78,80,84-85','53:57-58,62-72,74-76,80-81,84','54:58-59,61-66,68-72,75-77,80-84','55:64-65,67-70,72,76-81,84','56:64-65,68-72,77-81,83','57:66-71,76-81,83','58:66-71,76,79,82-83','59:67,69-71,83','60:60-61,70-71','61:66-68,70,78','62:65-67,69,78','63:66-68','64:66','65:66-68,83','66:66-68,83-84','67:62,67-68,80,82-84','68:62,67-69,80-83','69:67-69,82','70:58-60,68','71:57-60,67','72:57,59-61','73:57-61','74:54,56-57,60-61,69','75:54,57,61,68-70','76:60-63,68-72','77:47,59,62-65,68-72,82','78:59,61-65,68-70','79:50,59-69','80:44,60-64,66-70','81:47-50,58-64,66-69','82:58-64,66-69','83:58-63,67-70,75,79','84:58-64,67-68,75-76,80','85:57-64,67-68','86:56-65,67-68','87:54-66,68-69','88:54-66,69','89:54-66','90:54,56,58-66','91:57-63','92:57-63','93:19,57-62','94:57-61','95:52,57-60','96:54-60','97:54-60','98:55-57,59','102:55-58','103:55-59','104:56-60','105:56-58','106:54,56-57','107:57','108:48-51,57-58','109:48-49,57','110:51,54-58','111:50-54','112:51-54','113:53-54','114:52-53','115:53','118:45-47','119:19,21,45,47-49','120:18,46-49','121:17-18,46-48','122:15-16,18,46-48','123:15-17,46-49','124:16,19,47-49','125:16','126:14-15,47,50-51','127:14-15,37,47-51','128:32,35,37,49','129:34-37','130:33-34,36','131:31-37','132:30-31,34-38','133:31-38','134:30-33']

// study area outline, [easting, northing] on the map's own frame
const boundaryPoints = [[2946,62],[2955,68],[2975,85],[2990,110],[3000,140],[2996,177],[2984,215],[2971,225],[2950,245],[2944,257],[2957,283],[2970,297],[2988,305],[3024,317],[3040,348],[3080,348],[3087,333],[3102,303],[3102,297],[3112,270],[3118,278],[3145,279],[3150,292],[3158,295],[3165,300],[3176,305],[3189,328],[3238,327],[3245,337],[3243,353],[3227,390],[3240,412],[3254,418],[3254,470],[3268,477],[3276,497],[3295,527],[3299,533],[3321,567],[3326,588],[3377,592],[3388,602],[3422,588],[3429,577],[3444,565],[3458,553],[3464,543],[3487,548],[3504,562],[3531,550],[3540,545],[3558,535],[3576,548],[3603,550],[3603,530],[3612,518],[3629,520],[3658,522],[3665,507],[3685,497],[3688,468],[3712,455],[3710,437],[3714,415],[3770,415],[3781,437],[3797,447],[3821,470],[3839,487],[3864,512],[3879,517],[3888,530],[3906,537],[3931,560],[3933,593],[3920,610],[3908,633],[3893,650],[3906,680],[3915,707],[3888,733],[3868,757],[3864,783],[3862,815],[3846,837],[3837,850],[3838,867],[3852,872],[3838,877],[3846,883],[3837,893],[3828,907],[3838,917],[3845,930],[3843,938],[3835,947],[3847,953],[3850,983],[3848,998],[3847,1005],[3858,1012],[3860,1028],[3867,1040],[3875,1050],[3877,1070],[3882,1083],[3877,1103],[3882,1128],[3873,1132],[3865,1150],[3847,1143],[3830,1145],[3818,1143],[3812,1150],[3812,1160],[3807,1167],[3812,1187],[3803,1210],[3805,1223],[3798,1238],[3790,1253],[3790,1293],[3782,1340],[3790,1360],[3775,1395],[3750,1393],[3747,1383],[3743,1367],[3732,1357],[3700,1397],[3650,1473],[3630,1513],[3617,1538],[3573,1565],[3567,1600],[3557,1622],[3530,1638],[3498,1665],[3450,1715],[3443,1760],[3402,1805],[3368,1839],[3294,1822],[3279,1840],[3282,1857],[3259,1852],[3236,1867],[3203,1887],[3162,1883],[3149,1902],[3134,1890],[3116,1890],[3103,1877],[3067,1867],[3080,1843],[3085,1822],[3065,1807],[3052,1787],[3009,1780],[2993,1768],[2970,1767],[2950,1782],[2932,1795],[2912,1793],[2894,1823],[2873,1840],[2861,1865],[2835,1877],[2801,1854],[2804,1839],[2761,1827],[2751,1790],[2673,1769],[2625,1709],[2593,1706],[2570,1711],[2553,1702],[2533,1704],[2513,1715],[2470,1721],[2421,1803],[2398,1843],[2333,1797],[2289,1782],[2246,1787],[2201,1809],[2164,1801],[2135,1822],[2105,1867],[2023,1802],[2009,1747],[2009,1734],[2060,1696],[2049,1615],[2094,1524],[2087,1510],[2128,1385],[2185,1204],[2260,1243],[2303,1255],[2343,1251],[2375,1265],[2411,1274],[2421,1252],[2444,1241],[2461,1241],[2467,1224],[2481,1216],[2490,1198],[2513,1183],[2515,1170],[2533,1163],[2535,1150],[2570,1125],[2600,1105],[2640,1088],[2660,1065],[2670,1030],[2687,1000],[2683,990],[2667,988],[2645,990],[2636,980],[2647,973],[2656,960],[2649,950],[2658,930],[2656,913],[2671,890],[2685,877],[2691,853],[2685,830],[2696,810],[2698,793],[2712,783],[2720,767],[2727,737],[2725,720],[2729,700],[2738,690],[2750,677],[2743,667],[2756,650],[2750,637],[2761,620],[2756,597],[2767,590],[2765,580],[2783,573],[2796,550],[2814,533],[2823,517],[2841,500],[2861,483],[2861,457],[2868,437],[2872,420],[2861,392],[2837,387],[2834,367],[2837,313],[2808,300],[2783,293],[2716,322],[2709,307],[2709,280],[2705,263],[2727,250],[2743,225],[2758,207],[2770,187],[2783,173],[2796,143],[2808,130],[2823,117],[2828,102],[2837,92],[2850,87],[2870,83],[2877,81],[2904,83],[2917,66],[2946,62]]

// ---- drawing ----
const svg = d3.select('#chartbox')
  .append('svg')
  .attr('width', 3967)
  .attr('height', 2069)

const x = d3.scaleLinear().domain([9.444, 18.08]).range([245, 1659])
const y = d3.scaleLinear().domain([267.1, 301]).range([1526, 402])

const grid = svg.append('g')
grid.selectAll('line.gx')
  .data(xTicks)
  .enter()
  .append('line')
  .attr('x1', d => x(d)).attr('x2', d => x(d))
  .attr('y1', y.range()[0]).attr('y2', y.range()[1])
grid.selectAll('line.gy')
  .data(yTicks)
  .enter()
  .append('line')
  .attr('x1', x.range()[0]).attr('x2', x.range()[1])
  .attr('y1', d => y(d)).attr('y2', d => y(d))
grid.selectAll('line')
  .attr('stroke', '#cfcfcf')
  .attr('stroke-width', 1.5)
  .attr('stroke-dasharray', '2 2')

const flatten = (heights, eos) => heights.flatMap((h, i) => eos[i].map(e => [h, e]))

const drawDots = (points, r, opacity) => svg.append('g')
  .selectAll('circle')
  .data(points)
  .enter()
  .append('circle')
  .attr('cx', d => x(d[0]))
  .attr('cy', d => y(d[1]))
  .attr('r', r)
  .attr('fill', '#0000ff')
  .attr('fill-opacity', opacity)

drawDots(flatten(coreHeights, coreEos), 9.5, 1)
drawDots(flatten(clumpHeights, clumpEos), 7, 0.8)
drawDots(outliers.concat(flatten(looseHeights, looseEos)), 7, 0.55)

svg.append('path')
  .datum(fitHeight.map((h, i) => [h, fitEos[i]]))
  .attr('d', d3.line().x(d => x(d[0])).y(d => y(d[1])))
  .attr('stroke', '#ff0000')
  .attr('stroke-width', 7)
  .attr('fill', 'none')

svg.append('rect')
  .attr('x', 245).attr('y', 402)
  .attr('width', 1414).attr('height', 1124)
  .attr('fill', 'none')
  .attr('stroke', '#111')
  .attr('stroke-width', 2.5)

const xAxis = svg.append('g')
  .attr('transform', 'translate(0,1526)')
  .call(d3.axisBottom(x).tickValues(xTicks).tickSize(9).tickPadding(7))
const yAxis = svg.append('g')
  .attr('transform', 'translate(245,0)')
  .call(d3.axisLeft(y).tickValues(yTicks).tickSize(9).tickPadding(10))
for (const axis of [xAxis, yAxis]) {
  axis.select('.domain').remove()
  axis.selectAll('line').attr('stroke', '#111').attr('stroke-width', 2.5)
  axis.selectAll('text')
    .style('font-family', '"Liberation Serif", serif')
    .style('font-size', '70px')
    .attr('fill', '#000')
}

svg.append('text')
  .attr('x', 950).attr('y', 1669)
  .attr('text-anchor', 'middle')
  .attr('font-size', 71)
  .text('Forest height (m)')

svg.append('text')
  .attr('transform', 'translate(98,966) rotate(-90)')
  .attr('text-anchor', 'middle')
  .attr('font-size', 70)
  .attr('textLength', 351)
  .attr('lengthAdjust', 'spacingAndGlyphs')
  .text('EOS (DOY)')

const stats = svg.append('g')
  .attr('font-size', 56)
  .attr('letter-spacing', 6.6)
stats.append('text').attr('x', 1030).attr('y', 482).text(statLines[0])
const r2 = stats.append('text').attr('x', 1030).attr('y', 564)
r2.append('tspan').text('R')
r2.append('tspan').attr('dy', -20).attr('font-size', 34).text('2')
r2.append('tspan').attr('dy', 20).text(' = ' + statLines[1])
const pv = stats.append('text').attr('x', 1030).attr('y', 645)
pv.append('tspan').attr('font-style', 'italic').text('p')
pv.append('tspan').text(' < ' + statLines[2])

svg.append('text')
  .attr('x', 842).attr('y', 1989)
  .attr('font-size', 140)
  .attr('textLength', 173)
  .text('(a)')
svg.append('text')
  .attr('x', 2887).attr('y', 1989)
  .attr('font-size', 140)
  .attr('textLength', 179)
  .text('(b)')

// map panel
const east = d3.scaleLinear().domain([2000, 3967]).range([2000, 3967])
const north = d3.scaleLinear().domain([0, 2069]).range([0, 2069])

svg.append('path')
  .datum(boundaryPoints)
  .attr('d', d3.line().x(d => east(d[0])).y(d => north(d[1])))
  .attr('fill', 'none')
  .attr('stroke', '#2a2a2a')
  .attr('stroke-width', 1.6)

const gridX = d3.scaleLinear().domain([0, 91]).range([2700.4, 3930.7])
const gridY = d3.scaleLinear().domain([0, 135]).range([63.3, 1888.5])
const cellW = gridX(1) - gridX(0)
const cellH = gridY(1) - gridY(0)

const fills = ['#f0f0f0', '#ff0000', '#0000ff', '#9999ff', '#ff9999']
const strokes = ['#b3b3b3', '#e60000', '#0000d9', '#8080dd', '#e08888']

const parseRuns = (runs, k) => runs.flatMap(run => {
  const [row, spans] = run.split(':')
  return spans.split(',').flatMap(span => {
    const m = span.match(/^(-?\d+)(?:-(\d+))?$/)
    const a = +m[1]
    const b = m[2] === undefined ? a : +m[2]
    return d3.range(a, b + 1).map(col => ({ row: +row, col: col, k: k }))
  })
})

// later classes win a cell over the grey base
const cellMap = new Map()
const classRuns = [notSignificantRuns, lateHighRuns, earlyLowRuns, earlyHighRuns, lateLowRuns]
classRuns.forEach((runs, k) => {
  parseRuns(runs, k).forEach(c => cellMap.set(c.row + '_' + c.col, c))
})

svg.append('g')
  .selectAll('rect')
  .data(Array.from(cellMap.values()).sort((a, b) => (a.k === 0 ? 0 : 1) - (b.k === 0 ? 0 : 1)))
  .enter()
  .append('rect')
  .attr('x', d => gridX(d.col))
  .attr('y', d => gridY(d.row))
  .attr('width', cellW)
  .attr('height', cellH)
  .attr('fill', d => fills[d.k])
  .attr('stroke', d => strokes[d.k])
  .attr('stroke-width', 1.4)

// legend
const legendWidths = [678, 871, 883, 895, 858]
const legendStarts = [1793, 1795, 1799, 1799, 1795]
const legendY = d3.scaleLinear().domain([0, 4]).range([25, 316])
const legend = svg.append('g')
legend.selectAll('rect')
  .data(legendNames)
  .enter()
  .append('rect')
  .attr('x', 1717.5)
  .attr('y', (d, i) => legendY(i))
  .attr('width', 70)
  .attr('height', 54)
  .attr('fill', (d, i) => fills[i])
  .attr('stroke', (d, i) => strokes[i])
  .attr('stroke-width', 1.5)
legend.selectAll('text')
  .data(legendNames)
  .enter()
  .append('text')
  .attr('x', (d, i) => legendStarts[i])
  .attr('y', (d, i) => legendY(i) + 42)
  .attr('font-size', 50)
  .attr('textLength', (d, i) => legendWidths[i])
  .attr('lengthAdjust', 'spacing')
  .text(d => d)
</script>
</body>
</html>
